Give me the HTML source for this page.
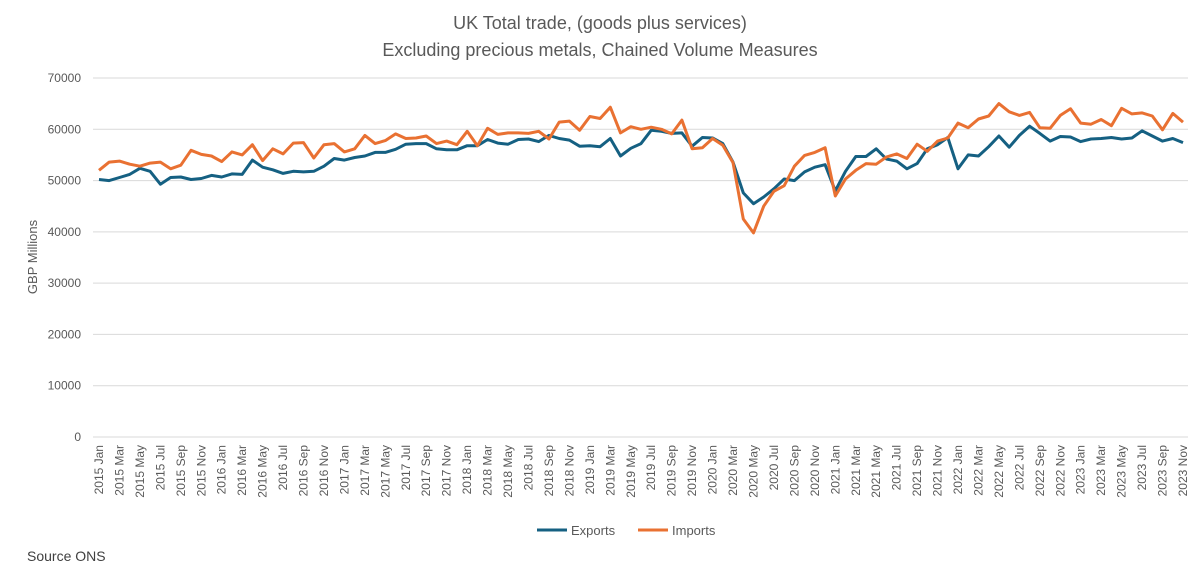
<!DOCTYPE html>
<html><head><meta charset="utf-8"><style>
body{margin:0;background:#fff;font-family:"Liberation Sans",sans-serif;}
svg text{font-family:"Liberation Sans",sans-serif;}
</style></head><body>
<svg id="c" width="1200" height="573">
<text x="600" y="29" text-anchor="middle" font-size="18" fill="#595959">UK Total trade, (goods plus services)</text>
<text x="600" y="56" text-anchor="middle" font-size="18" fill="#595959">Excluding precious metals, Chained Volume Measures</text>
<text transform="translate(37,257) rotate(-90)" text-anchor="middle" font-size="13" fill="#595959">GBP Millions</text>
<g id="grid"></g><g id="xl"></g><g id="lines"></g>
<g>
<line x1="537" y1="530" x2="567" y2="530" stroke="#156082" stroke-width="3"/>
<text x="571" y="535" font-size="13" fill="#595959">Exports</text>
<line x1="638" y1="530" x2="668" y2="530" stroke="#E97132" stroke-width="3"/>
<text x="672" y="535" font-size="13" fill="#595959">Imports</text>
</g>
<text x="27" y="561" font-size="14" fill="#404040">Source ONS</text>
</svg>
<script>
const exportsVals=[50200,50000,50600,51200,52400,51800,49300,50600,50700,50200,50400,51000,
50700,51300,51200,54000,52600,52100,51400,51800,51700,51800,52800,54300,
54000,54500,54800,55500,55500,56100,57100,57200,57200,56200,56000,56000,
56800,56800,58000,57300,57100,58000,58100,57600,58800,58200,57900,56700,
56800,56600,58200,54800,56300,57200,59800,59600,59200,59300,56700,58400,
58300,57200,53600,47600,45500,46800,48400,50300,50000,51700,52600,53100,
48000,51800,54700,54700,56200,54200,53800,52300,53300,56200,57000,58400,
52300,55000,54800,56600,58700,56500,58800,60600,59200,57700,58600,58500,
57600,58100,58200,58400,58100,58300,59700,58700,57700,58200,57400];
const importsVals=[52000,53600,53800,53200,52800,53400,53600,52300,53000,55900,55100,54800,
53700,55600,55000,57000,53900,56200,55200,57300,57400,54400,57000,57200,
55600,56200,58800,57200,57800,59100,58200,58300,58700,57200,57700,57000,
59600,56800,60200,59000,59300,59300,59200,59600,58100,61400,61600,59800,
62500,62100,64300,59300,60500,60000,60400,60000,59100,61800,56200,56400,
58200,56900,53500,42500,39800,45000,47900,49000,52800,54900,55500,56400,
47000,50300,52000,53300,53200,54600,55200,54300,57100,55700,57700,58300,
61200,60300,62000,62600,65000,63400,62700,63300,60300,60200,62700,64000,
61200,61000,61900,60700,64100,63000,63200,62600,59900,63100,61400];
const yTicks=[0,10000,20000,30000,40000,50000,60000,70000];
const monthNames=["Jan","Feb","Mar","Apr","May","Jun","Jul","Aug","Sep","Oct","Nov","Dec"];
const NS="http://www.w3.org/2000/svg";
const x0=99,x1=1183,yB=437,yT=78,n=exportsVals.length;
const X=i=>x0+(x1-x0)*i/(n-1);
const Y=v=>yB-(yB-yT)*v/70000;
const grid=document.getElementById('grid');
yTicks.forEach(t=>{
 const l=document.createElementNS(NS,'line');
 l.setAttribute('x1',93);l.setAttribute('x2',1188);l.setAttribute('y1',Y(t));l.setAttribute('y2',Y(t));
 l.setAttribute('stroke','#d9d9d9');l.setAttribute('stroke-width','1');
 
 
 grid.appendChild(l);
 const tx=document.createElementNS(NS,'text');
 tx.setAttribute('x',81);tx.setAttribute('y',Y(t)+4);tx.setAttribute('text-anchor','end');
 tx.setAttribute('font-size','12');tx.setAttribute('fill','#595959');tx.textContent=t;
 
 
 grid.appendChild(tx);
});
const xl=document.getElementById('xl');
for(let i=0;i<n;i+=2){
 const tx=document.createElementNS(NS,'text');
 const lab=(2015+Math.floor(i/12))+' '+monthNames[i%12];
 tx.setAttribute('transform','translate('+(X(i)+4)+',445) rotate(-90)');
 tx.setAttribute('text-anchor','end');tx.setAttribute('font-size','12');tx.setAttribute('fill','#595959');
 tx.textContent=lab;
 
 
 xl.appendChild(tx);
}
const lines=document.getElementById('lines');
[[exportsVals,'#156082','exports-line'],[importsVals,'#E97132','imports-line']].forEach(([d,c,nm])=>{
 const p=document.createElementNS(NS,'polyline');
 p.setAttribute('points',d.map((v,i)=>X(i).toFixed(1)+','+Y(v).toFixed(1)).join(' '));
 p.setAttribute('fill','none');p.setAttribute('stroke',c);p.setAttribute('stroke-width','3');
 p.setAttribute('stroke-linejoin','round');
 
 
 lines.appendChild(p);
});
</script>
</body></html>
